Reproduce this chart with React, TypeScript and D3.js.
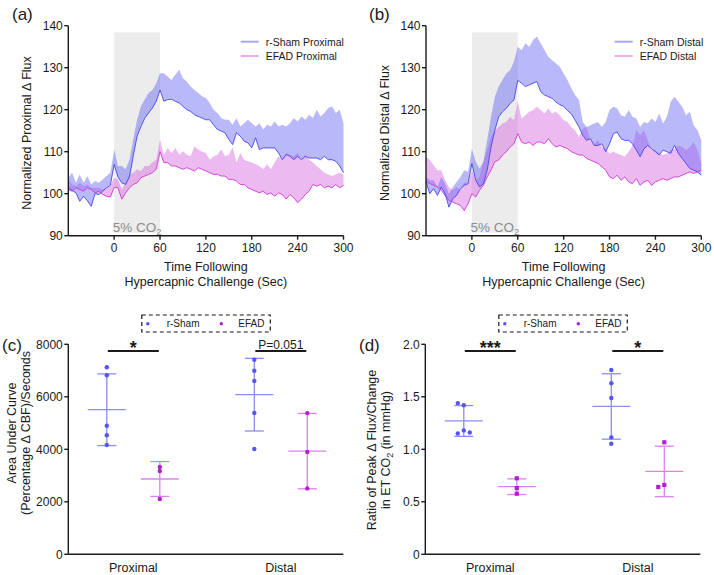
import React from "react";
import * as d3 from "d3";

// ---------- DATA ----------
const timeSec = [
  -60, -55, -50, -45, -40, -35, -30, -25, -20, -15, -10, -5,
  0, 5, 10, 15, 20, 25, 30, 35, 40, 45, 50, 55,
  60, 65, 70, 75, 80, 85, 90, 95, 100, 105, 110, 115,
  120, 125, 130, 135, 140, 145, 150, 155, 160, 165, 170, 175,
  180, 185, 190, 195, 200, 205, 210, 215, 220, 225, 230, 235,
  240, 245, 250, 255, 260, 265, 270, 275, 280, 285, 290, 295,
  300,
];

const shamProxMean = [
  101.4, 100.8, 100.2, 98.2, 99.4, 98.3, 97.0, 100.0, 99.8, 100.6, 101.4, 102.0,
  107.0, 104.0, 102.6, 102.2, 104.0, 109.0, 113.7, 116.0, 118.0, 119.2, 120.4, 122.0,
  124.7, 122.0, 122.4, 122.5, 122.0, 121.6, 120.8, 120.0, 119.6, 118.8, 118.4, 118.0,
  117.6, 117.6, 116.4, 115.3, 114.9, 114.5, 112.9, 111.7, 114.5, 113.7, 112.5, 112.1,
  110.9, 113.3, 110.5, 110.9, 110.9, 110.9, 110.9, 109.7, 108.1, 109.3, 108.9, 108.1,
  108.9, 108.1, 108.9, 108.5, 108.5, 108.5, 108.1, 108.9, 108.1, 108.1, 107.7, 106.6,
  105.0,
];
const shamProxUpper = [
  103.8, 105.0, 102.6, 104.6, 102.6, 104.2, 102.2, 103.0, 102.6, 103.4, 104.2, 105.0,
  110.5, 106.6, 106.6, 105.8, 108.1, 112.9, 117.6, 120.8, 122.4, 124.0, 124.7, 126.3,
  128.7, 128.7, 127.9, 127.1, 128.3, 129.5, 127.5, 126.7, 125.5, 124.7, 124.0, 123.2,
  122.8, 121.6, 120.0, 119.2, 118.0, 117.6, 117.6, 116.4, 118.0, 116.0, 116.8, 117.6,
  116.8, 116.0, 116.8, 115.3, 116.4, 116.0, 117.2, 116.0, 116.4, 116.0, 116.8, 118.0,
  117.2, 118.4, 117.6, 118.8, 118.0, 120.0, 118.4, 119.2, 120.4, 120.8, 119.2, 120.0,
  116.8,
];
const efadProxMean = [
  101.0, 100.6, 101.4, 101.0, 100.6, 101.4, 101.0, 100.2, 100.6, 99.8, 99.4, 99.2,
  101.5, 101.4, 98.7, 100.2, 101.4, 102.2, 102.6, 103.8, 104.2, 104.6, 105.0, 105.8,
  110.0, 107.4, 107.4, 106.6, 106.6, 106.2, 105.8, 106.2, 105.8, 105.4, 106.2, 105.8,
  105.4, 105.0, 104.6, 104.6, 104.2, 104.2, 103.4, 103.4, 103.0, 102.2, 102.2, 101.4,
  101.0, 100.6, 100.2, 100.6, 99.8, 100.2, 99.4, 100.2, 99.8, 98.7, 99.8, 99.0,
  97.9, 98.7, 99.8, 100.6, 102.2, 101.8, 102.2, 101.4, 101.8, 101.4, 102.2, 101.4,
  102.0,
];
const efadProxUpper = [
  103.4, 102.2, 101.8, 102.6, 101.8, 102.2, 101.4, 101.4, 101.4, 101.0, 101.4, 101.8,
  103.8, 103.4, 101.0, 102.6, 104.6, 105.0, 105.8, 105.4, 106.6, 106.6, 107.4, 108.1,
  112.9, 109.3, 110.9, 109.7, 110.9, 109.3, 110.1, 109.3, 108.9, 111.3, 110.5, 110.0,
  109.7, 108.1, 108.9, 109.3, 110.5, 108.9, 109.3, 111.0, 107.4, 109.7, 108.1, 107.7,
  107.4, 107.0, 106.6, 105.8, 107.0, 105.8, 107.4, 108.9, 108.1, 109.7, 109.3, 108.9,
  109.7, 108.1, 109.3, 108.1, 107.4, 106.6, 105.8, 105.0, 104.6, 104.2, 104.6, 105.0,
  104.6,
];
const shamDistMean = [
  102.8, 100.0, 101.2, 99.6, 101.6, 100.0, 96.8, 98.8, 99.6, 101.2, 102.0, 102.4,
  107.2, 103.2, 101.6, 102.4, 105.6, 111.1, 115.1, 118.3, 119.5, 120.3, 121.5, 122.3,
  127.0, 126.3, 125.5, 125.9, 126.3, 126.7, 124.3, 123.5, 123.1, 122.7, 121.8, 121.2,
  120.8, 119.8, 119.0, 117.5, 115.9, 113.9, 112.7, 113.1, 111.5, 111.5, 111.9, 110.0,
  111.9, 114.3, 114.7, 113.1, 112.7, 112.7, 111.9, 110.4, 108.8, 110.7, 111.5, 110.7,
  110.0, 109.2, 110.4, 110.0, 109.6, 111.5, 109.6, 108.4, 107.2, 106.0, 105.6, 105.2,
  104.4,
];
const shamDistUpper = [
  104.0, 103.2, 103.2, 101.6, 104.0, 102.4, 100.0, 101.6, 102.8, 104.0, 105.6, 105.2,
  110.7, 107.6, 106.0, 107.6, 112.7, 118.3, 123.1, 125.5, 127.1, 128.6, 129.4, 131.4,
  135.0, 134.2, 135.8, 135.0, 136.6, 137.4, 135.8, 134.2, 132.6, 131.8, 131.0, 130.2,
  128.6, 127.1, 125.1, 123.5, 122.3, 117.1, 115.9, 116.3, 116.7, 117.1, 115.9, 117.1,
  119.9, 120.7, 120.3, 118.7, 118.3, 119.9, 118.3, 117.9, 115.9, 117.1, 116.7, 117.9,
  117.1, 119.1, 116.7, 118.3, 121.9, 123.1, 121.9, 120.7, 118.7, 119.5, 116.3, 115.1,
  112.7,
];
const efadDistMean = [
  102.8, 102.4, 102.0, 101.6, 100.8, 99.6, 98.4, 98.0, 97.6, 97.2, 96.0, 97.6,
  100.0, 99.2, 100.8, 102.0, 104.0, 105.6, 107.6, 108.0, 109.2, 110.0, 111.1, 111.9,
  114.3, 112.3, 111.9, 112.3, 111.5, 112.3, 112.3, 111.9, 113.1, 111.9, 111.1, 111.5,
  111.1, 110.7, 110.0, 109.6, 109.2, 109.2, 108.4, 108.0, 107.6, 107.2, 106.4, 105.6,
  104.0, 103.6, 104.4, 103.2, 104.0, 102.8, 102.4, 103.6, 102.0, 102.8, 103.2, 102.0,
  102.8, 103.2, 103.6, 103.2, 103.6, 104.0, 104.0, 104.4, 104.8, 105.2, 104.8, 105.2,
  105.6,
];
const efadDistUpper = [
  108.8, 108.0, 106.8, 105.6, 105.6, 103.2, 101.6, 100.8, 101.6, 100.8, 102.8, 102.4,
  105.6, 103.2, 104.0, 107.6, 110.4, 113.5, 115.1, 115.9, 116.7, 117.1, 118.3, 117.5,
  121.9, 117.9, 118.7, 119.5, 119.9, 120.7, 119.9, 119.1, 120.3, 119.1, 119.5, 118.7,
  117.5, 117.1, 115.9, 115.1, 113.5, 115.5, 115.9, 112.7, 111.9, 112.7, 111.1, 110.7,
  109.6, 110.0, 109.6, 109.2, 108.8, 110.0, 111.5, 115.1, 113.9, 115.1, 112.7, 110.4,
  110.4, 109.6, 109.2, 109.6, 110.4, 110.7, 111.5, 111.1, 110.4, 111.1, 112.3, 110.4,
  107.2,
];

const timeTicks = [0, 60, 120, 180, 240, 300];
const fluxTicks = [90, 100, 110, 120, 130, 140];
const co2Window = [0, 60];

const regions = ["Proximal", "Distal"];
const groups = ["r-Sham", "EFAD"];

const aucShamProx = [7124, 6819, 4899, 4533, 4164];
const aucEfadProx = [3326, 3173, 2107];
const aucShamDist = [7414, 6995, 6602, 5383, 4011];
const aucEfadDist = [5380, 3900, 2510];
const aucTicks = [0, 2000, 4000, 6000, 8000];
const aucSig = ["*", "P=0.051"];

const ratioShamProx = [1.42, 1.44, 1.18, 1.15, 1.16];
const ratioEfadProx = [0.724, 0.631, 0.577];
const ratioShamDist = [1.755, 1.629, 1.489, 1.114, 1.053];
const ratioEfadDist = [1.067, 0.66, 0.641];
const ratioTicks = [0, 0.5, 1.0, 1.5, 2.0];
const ratioSig = ["***", "*"];

// ---------- STYLE ----------
const FONT = "'Liberation Sans', Arial, Helvetica, sans-serif";
const AX = "#1a1a1a";
const SHAM_LINE = "#4646f0";
const EFAD_LINE = "#d236d8";
const SHAM_FILL = "rgb(100,100,245)";
const EFAD_FILL = "rgb(215,100,225)";
const SHAM_DOT = "#5555f2";
const EFAD_DOT = "#b41ed2";
const SHAM_BAR = "#8c8cf6";
const EFAD_BAR = "#dc82ee";

type LineProps = {
  left: number;
  right: number;
  letter: string;
  letterX: number;
  yTitle: string;
  yTitleX: number;
  names: string[];
  legendX: number;
  sm: number[];
  su: number[];
  em: number[];
  eu: number[];
};

function LinePanel(p: LineProps) {
  const top = 25.7;
  const bottom = 235.7;
  const x = d3.scaleLinear().domain([-60, 300]).range([p.left, p.right]);
  const y = d3.scaleLinear().domain([90, 140]).range([bottom, top]);
  const band = (mean: number[], up: number[]) =>
    d3
      .area<number>()
      .x((_, i) => x(timeSec[i]))
      .y0((_, i) => y(mean[i]))
      .y1((_, i) => y(up[i]))(timeSec) || "";
  const line = (mean: number[]) =>
    d3
      .line<number>()
      .x((_, i) => x(timeSec[i]))
      .y((_, i) => y(mean[i]))(timeSec) || "";
  const cx = (x(co2Window[0]) + x(co2Window[1])) / 2;
  const midX = (p.left + p.right) / 2;
  return (
    <g fontFamily={FONT}>
      <text x={p.letterX} y={20} fontSize={17} fill={AX}>
        {p.letter}
      </text>
      <rect
        x={x(co2Window[0])}
        y={y(138.4)}
        width={x(co2Window[1]) - x(co2Window[0])}
        height={y(90.7) - y(138.4)}
        fill="#ececec"
      />
      <text x={cx} y={231.5} fontSize={13.5} fill="#8c8c8c" textAnchor="middle">
        5% CO
        <tspan fontSize={9.5} dy={3}>
          2
        </tspan>
      </text>
      <path d={band(p.em, p.eu)} fill={EFAD_FILL} fillOpacity={0.45} />
      <path d={band(p.sm, p.su)} fill={SHAM_FILL} fillOpacity={0.45} />
      <path d={line(p.em)} fill="none" stroke={EFAD_LINE} strokeWidth={0.9} />
      <path d={line(p.sm)} fill="none" stroke={SHAM_LINE} strokeWidth={0.9} />
      {/* axes */}
      <line x1={p.left} x2={p.left} y1={top} y2={bottom} stroke={AX} strokeWidth={1.4} />
      <line x1={p.left} x2={p.right} y1={bottom} y2={bottom} stroke={AX} strokeWidth={1.4} />
      {fluxTicks.map((t) => (
        <g key={t}>
          <line x1={p.left - 4} x2={p.left} y1={y(t)} y2={y(t)} stroke={AX} strokeWidth={1.4} />
          <text x={p.left - 5.5} y={y(t) + 4.3} fontSize={12} textAnchor="end" fill={AX}>
            {t}
          </text>
        </g>
      ))}
      {timeTicks.map((t) => (
        <g key={t}>
          <line x1={x(t)} x2={x(t)} y1={bottom} y2={bottom + 4} stroke={AX} strokeWidth={1.4} />
          <text x={x(t)} y={252} fontSize={12} textAnchor="middle" fill={AX}>
            {t}
          </text>
        </g>
      ))}
      <text x={midX} y={271} fontSize={12.5} textAnchor="middle" fill={AX}>
        Time Following
      </text>
      <text x={midX} y={286} fontSize={12.5} textAnchor="middle" fill={AX}>
        Hypercapnic Challenge (Sec)
      </text>
      <text
        transform={`translate(${p.yTitleX},133) rotate(-90)`}
        fontSize={12.5}
        textAnchor="middle"
        fill={AX}
      >
        {p.yTitle}
      </text>
      {/* legend */}
      {[0, 1].map((i) => (
        <g key={i}>
          <line
            x1={p.legendX}
            x2={p.legendX + 18}
            y1={41.7 + i * 14.3}
            y2={41.7 + i * 14.3}
            stroke={i === 0 ? "#a8a8f8" : "#eeaaf0"}
            strokeWidth={2}
          />
          <text x={p.legendX + 25} y={45.5 + i * 14.3} fontSize={10.5} fill={AX}>
            {p.names[i]}
          </text>
        </g>
      ))}
    </g>
  );
}

type DotProps = {
  axisX: number;
  letter: string;
  letterX: number;
  domainMax: number;
  ticks: number[];
  fmt: (v: number) => string;
  series: number[][];
  square: boolean;
  sig: string[];
  titleLines: React.ReactNode[];
  titleXs: number[];
  titleY: number;
};

function swarm(values: number[], yS: (v: number) => number, cx: number) {
  const placed: [number, number][] = [];
  const order = [0, -1, 1, -2, 2];
  return values.map((v) => {
    const py = yS(v);
    for (const o of order) {
      const px = cx + o * 6;
      if (placed.every((q) => Math.hypot(q[0] - px, q[1] - py) >= 3.5)) {
        placed.push([px, py]);
        return [px, py];
      }
    }
    placed.push([cx, py]);
    return [cx, py];
  });
}

function DotPanel(p: DotProps) {
  const top = 344.3;
  const bottom = 554.3;
  const right = p.axisX + 275;
  const x = d3.scaleLinear().domain([0, 5.5]).range([p.axisX, right]);
  const y = d3.scaleLinear().domain([0, p.domainMax]).range([bottom, top]);
  const centers = [1.3, 4.25];
  const off = 0.53;
  const pos = [centers[0] - off, centers[0] + off, centers[1] - off, centers[1] + off];
  return (
    <g fontFamily={FONT}>
      <text x={p.letterX} y={351} fontSize={17} fill={AX}>
        {p.letter}
      </text>
      {/* legend box */}
      <rect
        x={p.axisX + 73.5}
        y={315}
        width={128.5}
        height={17}
        fill="none"
        stroke={AX}
        strokeWidth={1.2}
        strokeDasharray="4,3"
      />
      {groups.map((g, i) => (
        <g key={g}>
          <circle cx={p.axisX + 79.5 + i * 73.5} cy={323.7} r={1.7} fill={i === 0 ? SHAM_DOT : EFAD_DOT} />
          <text x={p.axisX + 98.4 + i * 71.6} y={327.2} fontSize={10} fill={AX}>
            {g}
          </text>
        </g>
      ))}
      {/* error bars + dots */}
      {p.series.map((vals, k) => {
        const cx = x(pos[k]);
        const m = d3.mean(vals) as number;
        const sd = d3.deviation(vals) as number;
        const col = k % 2 === 0 ? SHAM_BAR : EFAD_BAR;
        const dot = k % 2 === 0 ? SHAM_DOT : EFAD_DOT;
        const pts = swarm(vals, y, cx);
        return (
          <g key={k}>
            <line x1={cx} x2={cx} y1={y(m + sd)} y2={y(m - sd)} stroke={col} strokeWidth={1.3} />
            <line x1={cx - 9.5} x2={cx + 9.5} y1={y(m + sd)} y2={y(m + sd)} stroke={col} strokeWidth={1.3} />
            <line x1={cx - 9.5} x2={cx + 9.5} y1={y(m - sd)} y2={y(m - sd)} stroke={col} strokeWidth={1.3} />
            <line x1={cx - 19} x2={cx + 19} y1={y(m)} y2={y(m)} stroke={col} strokeWidth={1.3} />
            {pts.map(([px, py], j) =>
              p.square && k % 2 === 1 ? (
                <rect key={j} x={px - 2.1} y={py - 2.1} width={4.2} height={4.2} fill={dot} />
              ) : (
                <circle key={j} cx={px} cy={py} r={2.2} fill={dot} />
              )
            )}
          </g>
        );
      })}
      {/* significance */}
      {[0, 1].map((r) => {
        const x1 = x(pos[2 * r]) + 1;
        const x2 = x(pos[2 * r + 1]) - 1;
        const isStar = p.sig[r].startsWith("*");
        return (
          <g key={r}>
            <line x1={x1} x2={x2} y1={351} y2={351} stroke={AX} strokeWidth={2} />
            <text
              x={(x1 + x2) / 2}
              y={isStar ? 354 : 348.5}
              fontSize={isStar ? 18 : 12}
              fontWeight={isStar ? "bold" : "normal"}
              textAnchor="middle"
              fill={AX}
            >
              {p.sig[r]}
            </text>
          </g>
        );
      })}
      {/* axes */}
      <line x1={p.axisX} x2={p.axisX} y1={top} y2={bottom} stroke={AX} strokeWidth={1.4} />
      <line x1={p.axisX} x2={right} y1={bottom} y2={bottom} stroke={AX} strokeWidth={1.4} />
      {p.ticks.map((t) => (
        <g key={t}>
          <line x1={p.axisX - 4} x2={p.axisX} y1={y(t)} y2={y(t)} stroke={AX} strokeWidth={1.4} />
          <text x={p.axisX - 5.5} y={y(t) + 4.3} fontSize={12} textAnchor="end" fill={AX}>
            {p.fmt(t)}
          </text>
        </g>
      ))}
      {regions.map((r, i) => (
        <text key={r} x={x(centers[i])} y={572} fontSize={12.5} textAnchor="middle" fill={AX}>
          {r}
        </text>
      ))}
      {p.titleLines.map((tl, i) => (
        <text
          key={i}
          transform={`translate(${p.titleXs[i]},${p.titleY}) rotate(-90)`}
          fontSize={12.5}
          textAnchor="middle"
          fill={AX}
        >
          {tl}
        </text>
      ))}
    </g>
  );
}

export default function App() {
  return (
    <svg
      width={714}
      height={575}
      style={{ position: "absolute", left: 0, top: 0, background: "#fff" }}
    >
      <rect width={714} height={575} fill="#fff" />
      <LinePanel
        left={68.3}
        right={343.5}
        letter="(a)"
        letterX={12}
        yTitle="Normalized Proximal Δ Flux"
        yTitleX={31}
        names={["r-Sham Proximal", "EFAD Proximal"]}
        legendX={240.7}
        sm={shamProxMean}
        su={shamProxUpper}
        em={efadProxMean}
        eu={efadProxUpper}
      />
      <LinePanel
        left={426}
        right={701.3}
        letter="(b)"
        letterX={369}
        yTitle="Normalized Distal Δ Flux"
        yTitleX={389}
        names={["r-Sham Distal", "EFAD Distal"]}
        legendX={614.7}
        sm={shamDistMean}
        su={shamDistUpper}
        em={efadDistMean}
        eu={efadDistUpper}
      />
      <DotPanel
        axisX={68.3}
        letter="(c)"
        letterX={2}
        domainMax={8000}
        ticks={aucTicks}
        fmt={(v) => String(v)}
        series={[aucShamProx, aucEfadProx, aucShamDist, aucEfadDist]}
        square={false}
        sig={aucSig}
        titleLines={["Area Under Curve", "(Percentage Δ CBF)/Seconds"]}
        titleXs={[16, 30]}
        titleY={433}
      />
      <DotPanel
        axisX={425.3}
        letter="(d)"
        letterX={359}
        domainMax={2}
        ticks={ratioTicks}
        fmt={(v) => (v === 0 ? "0" : v.toFixed(1))}
        series={[ratioShamProx, ratioEfadProx, ratioShamDist, ratioEfadDist]}
        square={true}
        sig={ratioSig}
        titleLines={[
          "Ratio of Peak Δ Flux/Change",
          <>
            in ET CO<tspan fontSize={9} dy={3}>2</tspan>
            <tspan dy={-3}> (in mmHg)</tspan>
          </>,
        ]}
        titleXs={[376, 390]}
        titleY={450}
      />
    </svg>
  );
}
